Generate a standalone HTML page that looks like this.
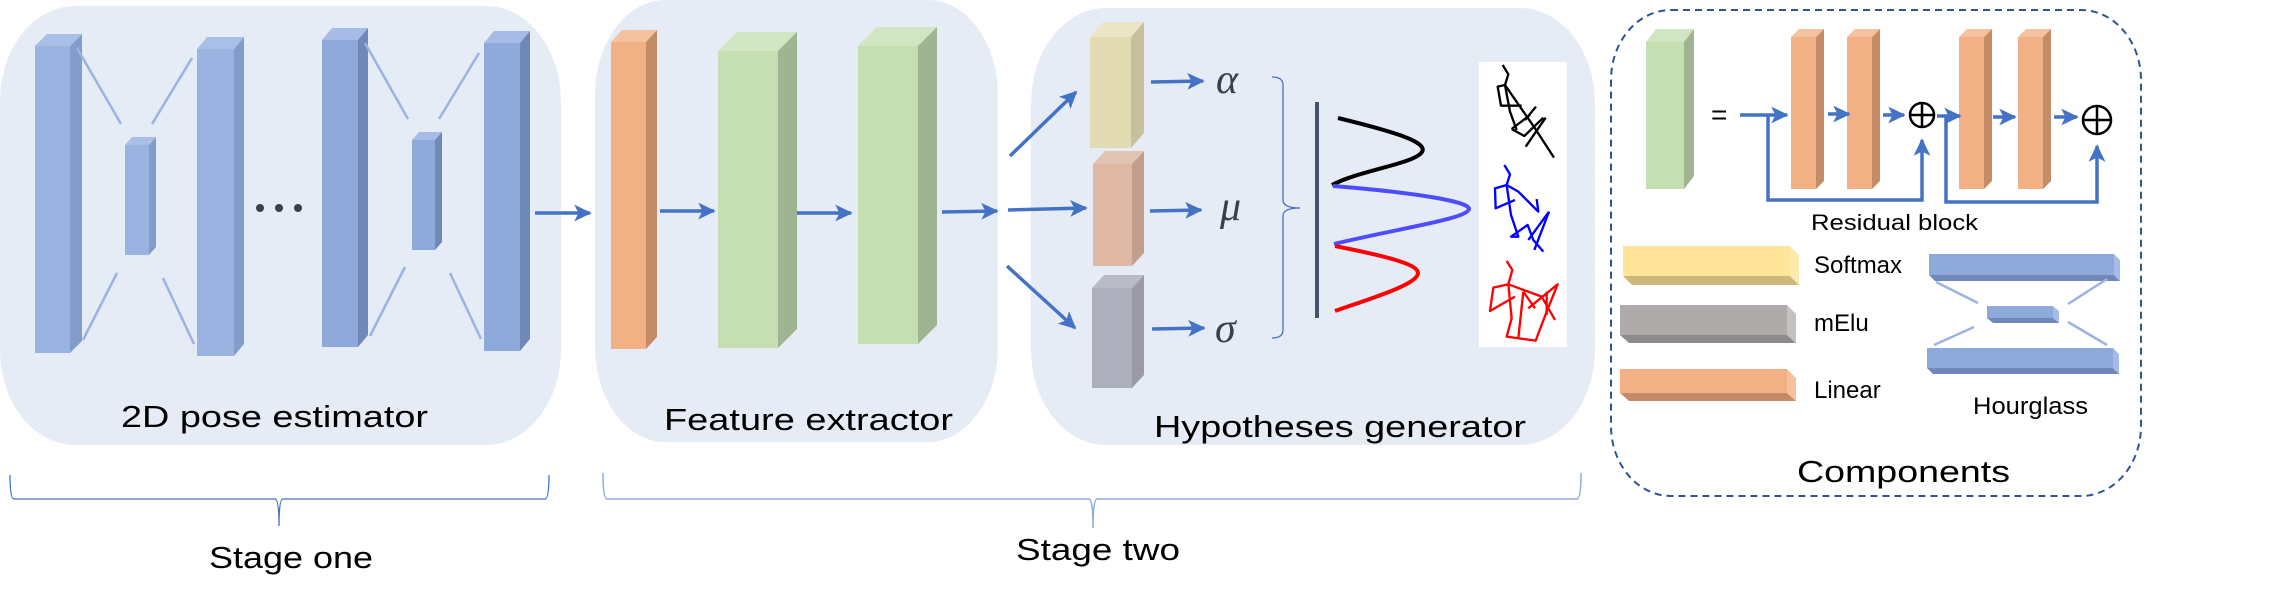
<!DOCTYPE html>
<html><head><meta charset="utf-8"><style>
html,body{margin:0;padding:0;background:#fff;}
svg{display:block;}
text{font-family:"Liberation Sans",sans-serif;fill:#000;}
</style></head><body>
<svg width="2269" height="606" viewBox="0 0 2269 606" xmlns="http://www.w3.org/2000/svg">
<defs>
<marker id="ah" markerWidth="6" markerHeight="6" refX="4.5" refY="3" orient="auto" markerUnits="strokeWidth">
<path d="M0,0.6 L5,3 L0,5.4 L1.2,3 Z" fill="#4472c4"/></marker>
</defs>
<!-- background panels -->
<rect x="0" y="6" width="561" height="439" rx="75" ry="95" fill="#e6ecf6"/>
<rect x="595" y="0" width="403" height="442" rx="70" ry="95" fill="#e6ecf6"/>
<rect x="1031" y="8" width="564" height="437" rx="75" ry="95" fill="#e6ecf6"/>
<rect x="1611" y="10" width="530" height="486" rx="60" ry="70" fill="none" stroke="#2f5597" stroke-width="2" stroke-dasharray="7,5"/>

<!-- stage one blocks -->
<g fill="#8faadc">
<rect x="35" y="46" width="35" height="307" fill="#9bb3e0"/>
<polygon points="35,46 47,34 82,34 70,46" fill="#aabfe8"/>
<polygon points="70,46 82,34 82,341 70,353" fill="#829dcc"/>
<rect x="125" y="145" width="24" height="110" fill="#9bb3e0"/>
<polygon points="125,145 132,137 156,137 149,145" fill="#aabfe8"/>
<polygon points="149,145 156,137 156,247 149,255" fill="#829dcc"/>
<rect x="197" y="49" width="37" height="307" fill="#9bb3e0"/>
<polygon points="197,49 207,37 244,37 234,49" fill="#aabfe8"/>
<polygon points="234,49 244,37 244,344 234,356" fill="#829dcc"/>
<rect x="322" y="40" width="36" height="307" fill="#8eaadb"/>
<polygon points="322,40 332,28 368,28 358,40" fill="#a6bbe6"/>
<polygon points="358,40 368,28 368,335 358,347" fill="#7088b8"/>
<rect x="412" y="140" width="23" height="110" fill="#8eaadb"/>
<polygon points="412,140 419,132 442,132 435,140" fill="#a6bbe6"/>
<polygon points="435,140 442,132 442,242 435,250" fill="#7088b8"/>
<rect x="484" y="43" width="36" height="308" fill="#8eaadb"/>
<polygon points="484,43 494,31 530,31 520,43" fill="#a6bbe6"/>
<polygon points="520,43 530,31 530,339 520,351" fill="#7088b8"/>
</g>
<g stroke="#9bb3e0" stroke-width="2.5">
<line x1="77" y1="48" x2="121" y2="124"/><line x1="192" y1="58" x2="152" y2="124"/>
<line x1="117" y1="273" x2="83" y2="340"/><line x1="163" y1="278" x2="194" y2="344"/>
<line x1="365" y1="43" x2="408" y2="119"/><line x1="479" y1="53" x2="439" y2="119"/>
<line x1="405" y1="267" x2="370" y2="336"/><line x1="450" y1="273" x2="481" y2="339"/>
</g>
<g fill="#3b3f4a"><circle cx="260" cy="208" r="4"/><circle cx="279" cy="208" r="4"/><circle cx="298" cy="208" r="4"/></g>

<!-- arrows -->
<g stroke="#4472c4" stroke-width="3.5" fill="none" marker-end="url(#ah)">
<line x1="535" y1="213" x2="590" y2="213"/>
<line x1="660" y1="211" x2="714" y2="211"/>
<line x1="797" y1="213" x2="851" y2="213"/>
<line x1="942" y1="212" x2="997" y2="211"/>
<line x1="1008" y1="210" x2="1086" y2="208"/>
<line x1="1010" y1="156" x2="1076" y2="92"/>
<line x1="1007" y1="266" x2="1075" y2="328"/>
<line x1="1151" y1="82" x2="1203" y2="81"/>
<line x1="1150" y1="211" x2="1201" y2="210"/>
<line x1="1152" y1="329" x2="1204" y2="328"/>
</g>

<!-- feature extractor blocks -->
<rect x="611" y="42" width="35" height="307" fill="#f2b085"/>
<polygon points="611,42 622,30 657,30 646,42" fill="#f5c29f"/>
<polygon points="646,42 657,30 657,337 646,349" fill="#c48c66"/>
<rect x="718" y="51" width="60" height="297" fill="#c5dfb3"/>
<polygon points="718,51 737,32 797,32 778,51" fill="#d0e5c2"/>
<polygon points="778,51 797,32 797,329 778,348" fill="#9fb491"/>
<rect x="858" y="46" width="60" height="298" fill="#c5dfb3"/>
<polygon points="858,46 877,27 937,27 918,46" fill="#d0e5c2"/>
<polygon points="918,46 937,27 937,325 918,344" fill="#9fb491"/>

<!-- hypotheses blocks -->
<rect x="1090" y="37" width="41" height="111" fill="#e3dcb3"/>
<polygon points="1090,37 1103,22 1144,22 1131,37" fill="#ebe5c6"/>
<polygon points="1131,37 1144,22 1144,133 1131,148" fill="#c7c09f"/>
<rect x="1093" y="164" width="39" height="102" fill="#deb8a2"/>
<polygon points="1093,164 1105,151 1144,151 1132,164" fill="#e2c4b2"/>
<polygon points="1132,164 1144,151 1144,253 1132,266" fill="#c09f8e"/>
<rect x="1092" y="288" width="40" height="100" fill="#adafbc"/>
<polygon points="1092,288 1104,275 1144,275 1132,288" fill="#b9bbc7"/>
<polygon points="1132,288 1144,275 1144,375 1132,388" fill="#9a9ba6"/>

<g font-family="Liberation Serif,serif" font-style="italic" font-size="42" fill="#3b3f4a">
<text x="1216" y="93" style="font-family:'Liberation Serif',serif;fill:#3b3f4a">α</text>
<text x="1220" y="220" style="font-family:'Liberation Serif',serif;fill:#3b3f4a">μ</text>
<text x="1215" y="342" style="font-family:'Liberation Serif',serif;fill:#3b3f4a">σ</text>
</g>
<path d="M1272,77 Q1283,77 1283,85 L1283,200 Q1283,208 1300,208 Q1283,208 1283,216 L1283,330 Q1283,338 1272,338" fill="none" stroke="#4472c4" stroke-width="1.3"/>
<line x1="1317" y1="102" x2="1317" y2="318" stroke="#44546a" stroke-width="4"/>
<path d="M1338,118 C1395,132 1428,142 1422,152 C1414,164 1360,170 1332,185" fill="none" stroke="#000" stroke-width="4"/>
<path d="M1333,186 C1420,193 1470,202 1469,209 C1467,219 1400,228 1334,244" fill="none" stroke="#4d4dff" stroke-width="4"/>
<path d="M1335,246 C1385,256 1418,264 1418,273 C1418,284 1375,297 1335,311" fill="none" stroke="#ff0000" stroke-width="4"/>
<rect x="1479" y="62" width="88" height="285" fill="#fff"/>
<g transform="translate(1475,55) scale(0.3333)" fill="none" stroke-width="7" stroke-linejoin="round">
<g stroke="#000">
<polyline points="83,30 100,58 90,90 105,170 125,225"/>
<polyline points="90,90 68,95 78,152 140,152"/>
<polyline points="90,90 180,220 237,308"/>
<polyline points="110,222 148,243 205,188"/>
<polyline points="165,180 110,222"/>
<polyline points="183,155 150,195"/>
<polyline points="212,188 152,275"/>
</g>
<g stroke="#0000ff">
<polyline points="88,330 105,358 95,390 60,400 62,460 120,435"/>
<polyline points="95,390 108,480 130,545 108,545 158,510 175,555 205,590"/>
<polyline points="95,390 130,410 190,470 185,432"/>
<polyline points="222,470 178,585"/>
<polyline points="222,470 160,555"/>
</g>
<g stroke="#ff0000">
<polyline points="95,618 112,645 100,688 55,698 45,768 120,725"/>
<polyline points="100,688 110,790 95,845 182,857 215,770 248,688 160,760"/>
<polyline points="100,688 200,725 240,795"/>
<polyline points="145,710 130,850"/>
<polyline points="145,710 180,760"/>
<polyline points="215,710 215,780"/>
</g>
</g>

<!-- components -->
<rect x="1646" y="42" width="38" height="147" fill="#c5dfb3"/>
<polygon points="1646,42 1656,29 1694,29 1684,42" fill="#d0e5c2"/>
<polygon points="1684,42 1694,29 1694,176 1684,189" fill="#9fb491"/>
<text x="1711" y="124" font-size="28">=</text>
<g>
<rect x="1791" y="37" width="25" height="152" fill="#f2b085"/><polygon points="1791,37 1799,29 1824,29 1816,37" fill="#f5c29f"/><polygon points="1816,37 1824,29 1824,181 1816,189" fill="#c48c66"/>
<rect x="1847" y="37" width="25" height="152" fill="#f2b085"/><polygon points="1847,37 1855,29 1880,29 1872,37" fill="#f5c29f"/><polygon points="1872,37 1880,29 1880,181 1872,189" fill="#c48c66"/>
<rect x="1959" y="37" width="25" height="152" fill="#f2b085"/><polygon points="1959,37 1967,29 1992,29 1984,37" fill="#f5c29f"/><polygon points="1984,37 1992,29 1992,181 1984,189" fill="#c48c66"/>
<rect x="2018" y="37" width="25" height="152" fill="#f2b085"/><polygon points="2018,37 2026,29 2051,29 2043,37" fill="#f5c29f"/><polygon points="2043,37 2051,29 2051,181 2043,189" fill="#c48c66"/>
</g>
<g stroke="#4472c4" stroke-width="3.5" fill="none">
<line x1="1740" y1="115" x2="1787" y2="115" marker-end="url(#ah)"/>
<polyline points="1768,115 1768,200 1922,200 1922,140" marker-end="url(#ah)"/>
<line x1="1828" y1="114" x2="1849" y2="114" marker-end="url(#ah)"/>
<line x1="1883" y1="115" x2="1904" y2="115" marker-end="url(#ah)"/>
<line x1="1937" y1="116" x2="1960" y2="116" marker-end="url(#ah)"/>
<polyline points="1946,116 1946,202 2097,202 2097,146" marker-end="url(#ah)"/>
<line x1="1993" y1="117" x2="2015" y2="117" marker-end="url(#ah)"/>
<line x1="2054" y1="117" x2="2077" y2="117" marker-end="url(#ah)"/>
</g>
<g stroke="#000" stroke-width="2.5" fill="none">
<circle cx="1922" cy="115" r="12"/><line x1="1910" y1="115" x2="1934" y2="115"/><line x1="1922" y1="103" x2="1922" y2="127"/>
<circle cx="2097" cy="120" r="14"/><line x1="2083" y1="120" x2="2111" y2="120"/><line x1="2097" y1="106" x2="2097" y2="134"/>
</g>
<text x="1811" y="230" font-size="22" textLength="167" lengthAdjust="spacingAndGlyphs">Residual block</text>

<rect x="1623" y="246" width="167" height="30" fill="#fee599"/>
<polygon points="1623,276 1790,276 1799,285 1632,285" fill="#cdb87b"/>
<polygon points="1790,246 1799,255 1799,285 1790,276" fill="#feeaad"/>
<rect x="1620" y="305" width="167" height="30" fill="#afabab"/>
<polygon points="1620,335 1787,335 1796,343 1629,343" fill="#8f8b8b"/>
<polygon points="1787,305 1796,314 1796,343 1787,335" fill="#c4c1c1"/>
<rect x="1620" y="369" width="167" height="24" fill="#f2b085"/>
<polygon points="1620,393 1787,393 1796,401 1629,401" fill="#c48c66"/>
<polygon points="1787,369 1796,378 1796,401 1787,393" fill="#f5c29f"/>
<text x="1814" y="273" font-size="24">Softmax</text>
<text x="1814" y="331" font-size="24">mElu</text>
<text x="1814" y="398" font-size="24">Linear</text>

<rect x="1929" y="254" width="185" height="21" fill="#8eaadb"/>
<polygon points="1929,275 2114,275 2120,281 1935,281" fill="#7088b8"/>
<polygon points="2114,254 2120,260 2120,281 2114,275" fill="#a6bbe6"/>
<rect x="1987" y="306" width="66" height="12" fill="#8eaadb"/>
<polygon points="1987,318 2053,318 2059,323 1993,323" fill="#7088b8"/>
<polygon points="2053,306 2059,311 2059,323 2053,318" fill="#a6bbe6"/>
<rect x="1927" y="348" width="186" height="20" fill="#8eaadb"/>
<polygon points="1927,368 2113,368 2119,374 1933,374" fill="#7088b8"/>
<polygon points="2113,348 2119,354 2119,374 2113,368" fill="#a6bbe6"/>
<g stroke="#9bb3e0" stroke-width="2.5">
<line x1="1936" y1="282" x2="1978" y2="303"/><line x1="2107" y1="279" x2="2068" y2="304"/>
<line x1="1974" y1="327" x2="1934" y2="345"/><line x1="2068" y1="322" x2="2107" y2="345"/>
</g>
<text x="1973" y="414" font-size="24" textLength="115" lengthAdjust="spacingAndGlyphs">Hourglass</text>
<text x="1797" y="482" font-size="31" textLength="213" lengthAdjust="spacingAndGlyphs">Components</text>

<!-- panel labels -->
<text x="121" y="427" font-size="31" textLength="307" lengthAdjust="spacingAndGlyphs">2D pose estimator</text>
<text x="664" y="430" font-size="31" textLength="289" lengthAdjust="spacingAndGlyphs">Feature extractor</text>
<text x="1154" y="437" font-size="31" textLength="372" lengthAdjust="spacingAndGlyphs">Hypotheses generator</text>

<!-- stage braces -->
<path d="M10,475 Q10,499 14,499 L275,499 Q279,499 279,526 Q279,499 283,499 L545,499 Q549,499 549,475" fill="none" stroke="#4472c4" stroke-width="1.3"/>
<path d="M603,473 Q603,499 607,499 L1089,499 Q1093,499 1093,528 Q1093,499 1097,499 L1577,499 Q1581,499 1581,473" fill="none" stroke="#8eaadb" stroke-width="1.5"/>
<text x="209" y="568" font-size="31" textLength="164" lengthAdjust="spacingAndGlyphs">Stage one</text>
<text x="1016" y="560" font-size="31" textLength="164" lengthAdjust="spacingAndGlyphs">Stage two</text>
</svg>
</body></html>
